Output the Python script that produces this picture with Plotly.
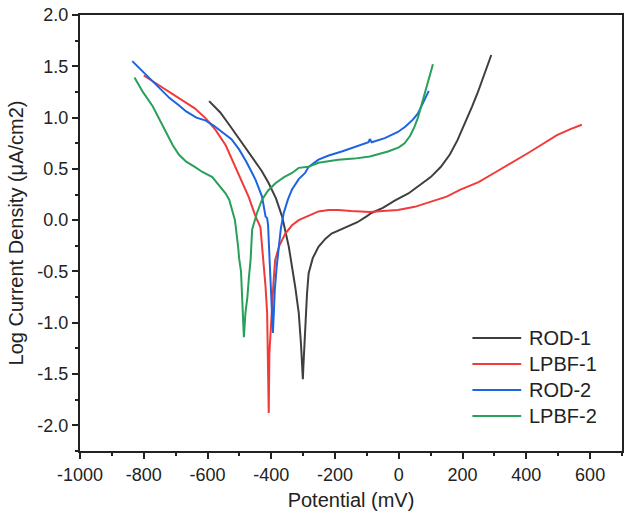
import plotly.graph_objects as go

# ROD-1
rod1_x = [-595, -560, -532, -500, -460, -430, -408, -385, -366, -345, -325, -314, -307, -304, -301,
          -299, -296, -293, -288, -283, -270, -252, -230, -211, -180, -158, -130, -100, -86, -50,
          -13, 30, 70, 100, 132, 160, 184, 200, 216, 230, 247, 258, 268, 280, 290]
rod1_y = [1.16, 1.05, 0.93, 0.79, 0.62, 0.48, 0.36, 0.21, 0.035, -0.26, -0.65, -0.90, -1.20, -1.43, -1.55,
          -1.40, -1.20, -0.97, -0.72, -0.52, -0.37, -0.26, -0.18, -0.13, -0.09, -0.06, -0.02, 0.04, 0.07, 0.12,
          0.19, 0.26, 0.35, 0.42, 0.52, 0.64, 0.78, 0.89, 1.01, 1.11, 1.24, 1.33, 1.43, 1.53, 1.61]

# LPBF-1
lpbf1_x = [-800, -760, -720, -678, -640, -605, -575, -543, -512, -491, -470, -460, -449, -434, -424,
           -418, -413, -411, -410, -408, -406, -402, -398, -393, -388, -375, -356, -335, -314, -280,
           -252, -220, -190, -150, -127, -91, -50, -3, 50, 101, 150, 195, 250, 299, 350,
           403, 450, 496, 540, 574]
lpbf1_y = [1.41, 1.33, 1.25, 1.17, 1.09, 0.99, 0.88, 0.73, 0.51, 0.37, 0.22, 0.13, 0.035, -0.07, -0.42,
           -0.65, -0.91, -1.36, -1.40, -1.88, -1.30, -1.05, -0.84, -0.60, -0.39, -0.25, -0.13, -0.05, 0.0, 0.05,
           0.085, 0.10, 0.10, 0.09, 0.085, 0.08, 0.09, 0.10, 0.13, 0.18, 0.23, 0.30, 0.37, 0.46, 0.55,
           0.65, 0.74, 0.83, 0.89, 0.93]

# ROD-2
rod2_x = [-836, -800, -772, -745, -719, -690, -667, -635, -605, -580, -553, -525, -501, -480, -460,
          -449, -429, -418, -413, -410, -408, -403, -399, -395, -392, -389, -383, -377, -370, -361,
          -348, -335, -314, -294, -283, -252, -220, -179, -140, -106, -95, -91, -85, -44, -3,
          20, 44, 60, 70, 83, 94]
rod2_y = [1.55, 1.44, 1.35, 1.27, 1.19, 1.12, 1.06, 1.00, 0.97, 0.92, 0.86, 0.79, 0.69, 0.58, 0.46,
          0.39, 0.23, 0.035, 0.02, -0.05, -0.20, -0.58, -0.85, -1.10, -0.90, -0.68, -0.45, -0.26, -0.08, 0.07,
          0.20, 0.30, 0.40, 0.46, 0.52, 0.59, 0.63, 0.67, 0.71, 0.75, 0.76, 0.79, 0.76, 0.80, 0.86,
          0.91, 0.98, 1.04, 1.11, 1.19, 1.26]

# LPBF-2
lpbf2_x = [-829, -803, -772, -740, -709, -690, -667, -640, -616, -585, -574, -555, -543, -532, -514,
           -504, -501, -495, -490, -486, -481, -475, -470, -465, -460, -445, -429, -410, -387, -360,
           -335, -314, -283, -252, -190, -140, -91, -34, 0, 18, 35, 49, 60, 70, 80,
           91, 100, 107]
lpbf2_y = [1.39, 1.25, 1.11, 0.91, 0.73, 0.64, 0.57, 0.52, 0.47, 0.42, 0.38, 0.31, 0.26, 0.20, 0.0,
           -0.26, -0.37, -0.50, -0.85, -1.14, -0.90, -0.75, -0.55, -0.39, -0.09, 0.07, 0.20, 0.29, 0.36, 0.42,
           0.46, 0.51, 0.52, 0.56, 0.59, 0.60, 0.62, 0.67, 0.71, 0.75, 0.82, 0.91, 1.00, 1.11, 1.22,
           1.34, 1.44, 1.52]

names = ["ROD-1", "LPBF-1", "ROD-2", "LPBF-2"]
colors = ["#3f3f3f", "#f23a3a", "#1c64e0", "#27a05a"]
xs_all = [rod1_x, lpbf1_x, rod2_x, lpbf2_x]
ys_all = [rod1_y, lpbf1_y, rod2_y, lpbf2_y]

x_ticks = [-1000, -800, -600, -400, -200, 0, 200, 400, 600]
y_ticks = [-2.0, -1.5, -1.0, -0.5, 0.0, 0.5, 1.0, 1.5, 2.0]

font = "Liberation Sans, Arial, sans-serif"
ink = "#222"

fig = go.Figure()
for name, xs, ys, col in zip(names, xs_all, ys_all, colors):
    fig.add_trace(go.Scatter(x=xs, y=ys, mode="lines", name=name,
                             line=dict(color=col, width=2), showlegend=False))

# legend drawn in paper coordinates
leg_y = [0.259, 0.1995, 0.140, 0.080]
for name, col, ly in zip(names, colors, leg_y):
    fig.add_shape(type="line", xref="paper", yref="paper", x0=0.724, x1=0.814, y0=ly, y1=ly,
                  line=dict(color=col, width=2))
    fig.add_annotation(xref="paper", yref="paper", x=0.825, y=ly, text=name, showarrow=False,
                       xanchor="left", yanchor="middle", font=dict(family=font, size=20, color=ink))

axis_common = dict(
    showline=True, linecolor=ink, linewidth=2, mirror=True,
    ticks="outside", ticklen=6, tickwidth=2, tickcolor=ink,
    showgrid=False, zeroline=False,
    tickfont=dict(family=font, size=18, color=ink),
)
fig.update_xaxes(range=[-1000, 700], tickvals=x_ticks,
                 ticktext=[str(v) for v in x_ticks],
                 minor=dict(ticks="outside", ticklen=3, tickwidth=2, tickcolor=ink, dtick=100),
                 title=dict(text="Potential (mV)", font=dict(family=font, size=20, color=ink), standoff=9),
                 **axis_common)
fig.update_yaxes(range=[-2.25, 2.0], tickvals=y_ticks,
                 ticktext=[f"{v:.1f}" for v in y_ticks],
                 minor=dict(ticks="outside", ticklen=3, tickwidth=2, tickcolor=ink, dtick=0.25),
                 title=dict(text="Log Current Density (μA/cm2)", font=dict(family=font, size=20, color=ink), standoff=8),
                 **axis_common)

fig.update_layout(
    width=625, height=517,
    margin=dict(l=80, r=1, t=15, b=66),
    paper_bgcolor="white", plot_bgcolor="white",
    showlegend=False,
)

fig.write_html("out.html")
